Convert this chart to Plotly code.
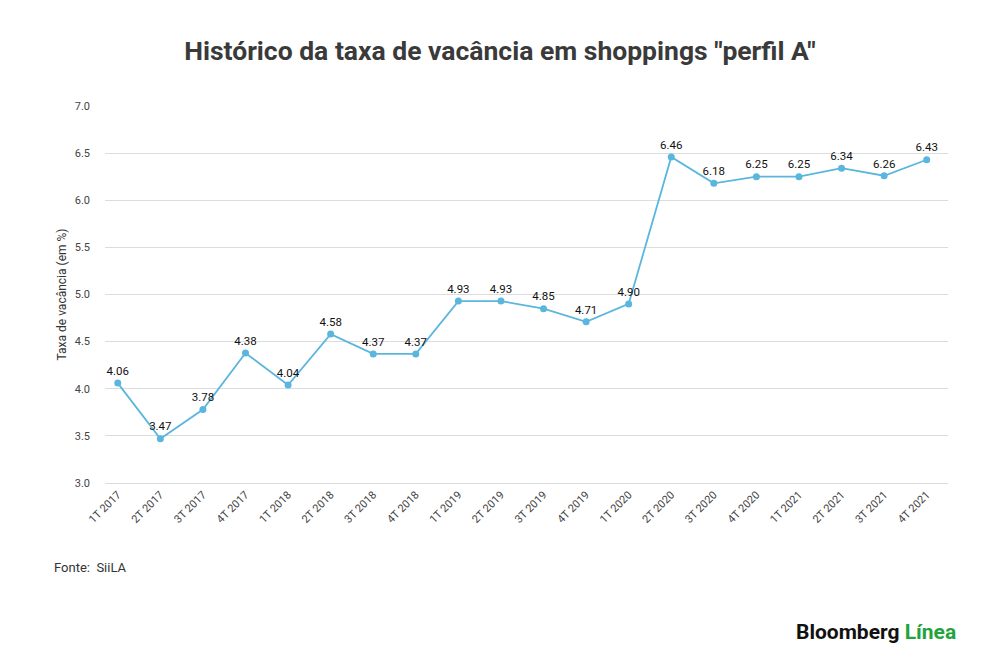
import plotly.graph_objects as go

# Vacancy rate for "perfil A" malls, by quarter
QUARTERS = ["1T 2017", "2T 2017", "3T 2017", "4T 2017", "1T 2018", "2T 2018", "3T 2018", "4T 2018",
            "1T 2019", "2T 2019", "3T 2019", "4T 2019", "1T 2020", "2T 2020", "3T 2020", "4T 2020",
            "1T 2021", "2T 2021", "3T 2021", "4T 2021"]
VACANCY = [4.06, 3.47, 3.78, 4.38, 4.04, 4.58, 4.37, 4.37, 4.93, 4.93, 4.85, 4.71, 4.90, 6.46,
           6.18, 6.25, 6.25, 6.34, 6.26, 6.43]

LINE = "#5bb6de"
GRID = "#dcdcdc"
TEXT = "#333333"

fig = go.Figure(go.Scatter(
    x=list(range(len(QUARTERS))), y=VACANCY, mode="lines+markers+text",
    line=dict(color=LINE, width=1.8), marker=dict(color=LINE, size=7),
    text=["%.2f" % v for v in VACANCY], textposition="top center",
    textfont=dict(family="Roboto", size=11.5, color="#111111"),
    cliponaxis=False, hoverinfo="skip"
))

fig.update_layout(
    width=1000, height=660, plot_bgcolor="white", paper_bgcolor="white",
    margin=dict(l=97, r=60, t=98, b=185), showlegend=False,
    font=dict(family="Roboto", color=TEXT),
    title=dict(text="<b>Histórico da taxa de vacância em shoppings \"perfil A\"</b>",
               x=0.492, xanchor="center", y=0.936, yanchor="middle",
               font=dict(family="Roboto", size=26.5, color="#3a3a3a")),
)
fig.update_xaxes(
    range=[-0.3, 19.5], tickmode="array", tickvals=list(range(len(QUARTERS))), ticktext=QUARTERS,
    tickangle=-45, showgrid=False, zeroline=False, showline=True, linecolor=GRID,
    tickfont=dict(size=11, color="#444444"),
)
fig.update_yaxes(
    range=[3, 7], dtick=0.5, tickformat=".1f", showgrid=True, gridcolor=GRID, zeroline=False,
    ticks="", ticklabelstandoff=14, tickfont=dict(size=11, color="#444444"),
    title=dict(text="Taxa de vacância (em %)", font=dict(size=12, color="#333333"), standoff=5),
)

fig.add_annotation(text="Fonte:  SiiLA", xref="paper", yref="paper", x=-0.063, y=-0.225,
                   xanchor="left", yanchor="middle", showarrow=False,
                   font=dict(size=13, color="#333333"))
fig.add_annotation(text="<b>Bloomberg</b> <b><span style='color:#23a33b'>Línea</span></b>",
                   xref="paper", yref="paper", x=1.012, y=-0.395, xanchor="right", yanchor="middle",
                   showarrow=False, font=dict(family="Roboto", size=21, color="#111111"))

fig.write_html("out.html")
